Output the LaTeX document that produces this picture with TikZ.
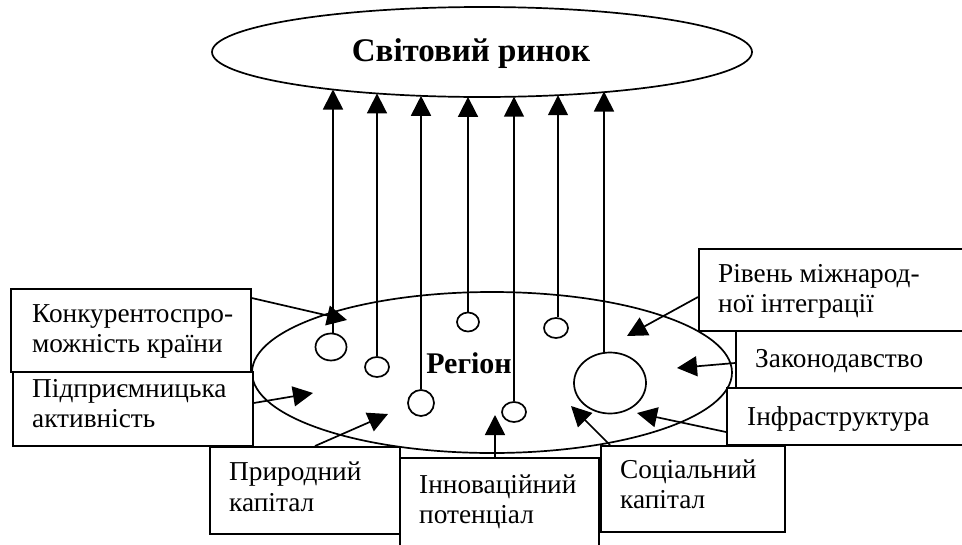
\documentclass[tikz,border=0pt]{standalone}
\usepackage{fontspec}
\setmainfont{Liberation Serif}
\usetikzlibrary{arrows.meta,shapes.geometric}
\begin{document}
\begin{tikzpicture}[x=1pt,y=-1pt,
  ln/.style={line width=1.7pt},
  arr/.style={ln,-{Triangle[length=20pt,width=20pt]}},
  boxn/.style={draw,ln,fill=white,rectangle,inner sep=0pt,anchor=north west},
  ring/.style={draw,ln,fill=white,ellipse,inner sep=0pt},
  txt/.style={anchor=base west,inner sep=0pt,font=\fontsize{27.3}{31}\selectfont},
  bold/.style={inner sep=0pt,font=\fontsize{30}{34}\selectfont\bfseries}]
\useasboundingbox (0,0) rectangle (962,544);
\clip (0,0) rectangle (962,544);
% world market
\node[draw,ln,ellipse,minimum width=540pt,minimum height=90pt,inner sep=0pt] (W) at (482,52) {};
\node[bold,anchor=base,font=\fontsize{33}{38}\selectfont\bfseries] (Wt) at (471,61) {Світовий ринок};
% region
\node[draw,ln,ellipse,minimum width=480pt,minimum height=161pt,inner sep=0pt] (R) at (492,372.5) {};
\node[bold,anchor=base] (Rt) at (469,373) {Регіон};
% small circles
\node[ring,minimum width=31pt,minimum height=27pt] (c1) at (331,347) {};
\node[ring,minimum width=24pt,minimum height=20pt] (c2) at (377,367) {};
\node[ring,minimum width=26pt,minimum height=26pt] (c3) at (421,403) {};
\node[ring,minimum width=22pt,minimum height=19pt] (c4) at (468,322) {};
\node[ring,minimum width=24pt,minimum height=20pt] (c5) at (514,412) {};
\node[ring,minimum width=24pt,minimum height=20pt] (c6) at (556,328) {};
\node[ring,minimum width=72pt,minimum height=61pt] (c7) at (610,383) {};
% top ends on the world ellipse
\coordinate (t1) at (333,89.5);
\coordinate (t2) at (377,93.4);
\coordinate (t3) at (421,95.8);
\coordinate (t4) at (468,96.9);
\coordinate (t5) at (514,96.7);
\coordinate (t6) at (558,95.2);
\coordinate (t7) at (604,91.5);
\draw[arr] (c1.north -| t1) -- (t1);
\draw[arr] (c2.north) -- (t2);
\draw[arr] (c3.north) -- (t3);
\draw[arr] (c4.north) -- (t4);
\draw[arr] (c5.north) -- (t5);
\draw[arr] (c6.north -| t6) -- (t6);
\draw[arr] (t7 |- c7.north) -- (t7);
% boxes
\node[boxn,minimum width=240pt,minimum height=83pt] (b1) at (10,288) {};
\node[boxn,minimum width=240pt,minimum height=74pt] (b2) at (12,371) {};
\node[boxn,minimum width=190pt,minimum height=87pt] (b3) at (209,446) {};
\node[boxn,minimum width=199pt,minimum height=90pt] (b4) at (399,457) {};
\node[boxn,minimum width=184pt,minimum height=86pt] (b5) at (600,445) {};
\node[boxn,minimum width=280pt,minimum height=57pt] (b6) at (726,387) {};
\node[boxn,minimum width=280pt,minimum height=57pt] (b7) at (735,330) {};
\node[boxn,minimum width=280pt,minimum height=82pt] (b8) at (698,248) {};
% texts
\node[txt] (x1a) at (32,322) {Конкурентоспро-};
\node[txt] (x1b) at (32,352) {можність країни};
\node[txt] (x2a) at (32,397) {Підприємницька};
\node[txt] (x2b) at (32,427) {активність};
\node[txt] (x3a) at (229,480) {Природний};
\node[txt] (x3b) at (229,511) {капітал};
\node[txt] (x4a) at (419,493) {Інноваційний};
\node[txt] (x4b) at (419,523) {потенціал};
\node[txt] (x5a) at (620,478) {Соціальний};
\node[txt] (x5b) at (620,508) {капітал};
\node[txt] (x6) at (747,425) {Інфраструктура};
\node[txt] (x7) at (755,367) {Законодавство};
\node[txt] (x8a) at (718,282) {Рівень міжнарод-};
\node[txt] (x8b) at (718,312) {ної інтеграції};
% incoming arrow tips
\coordinate (e1) at (347,320);
\coordinate (e2) at (313,393);
\coordinate (e3) at (388,414);
\coordinate (e4) at (495,415);
\coordinate (e5) at (571,406);
\coordinate (e6) at (637,413);
\coordinate (e7) at (677,368);
\coordinate (e8) at (627,336);
\draw[arr] (b1.north east |- 0,298) -- (e1);
\draw[arr] (b2.north east |- 0,403) -- (e2);
\draw[arr] (b3.north west -| 315,0) -- (e3);
\draw[arr] (b4.north west -| e4) -- (e4);
\draw[arr] (b5.north west -| 610,0) -- (e5);
\draw[arr] (b6.north west |- 0,432) -- (e6);
\draw[arr] (b7.north west |- 0,363) -- (e7);
\draw[arr] (b8.north west |- 0,297) -- (e8);
\end{tikzpicture}
\end{document}
